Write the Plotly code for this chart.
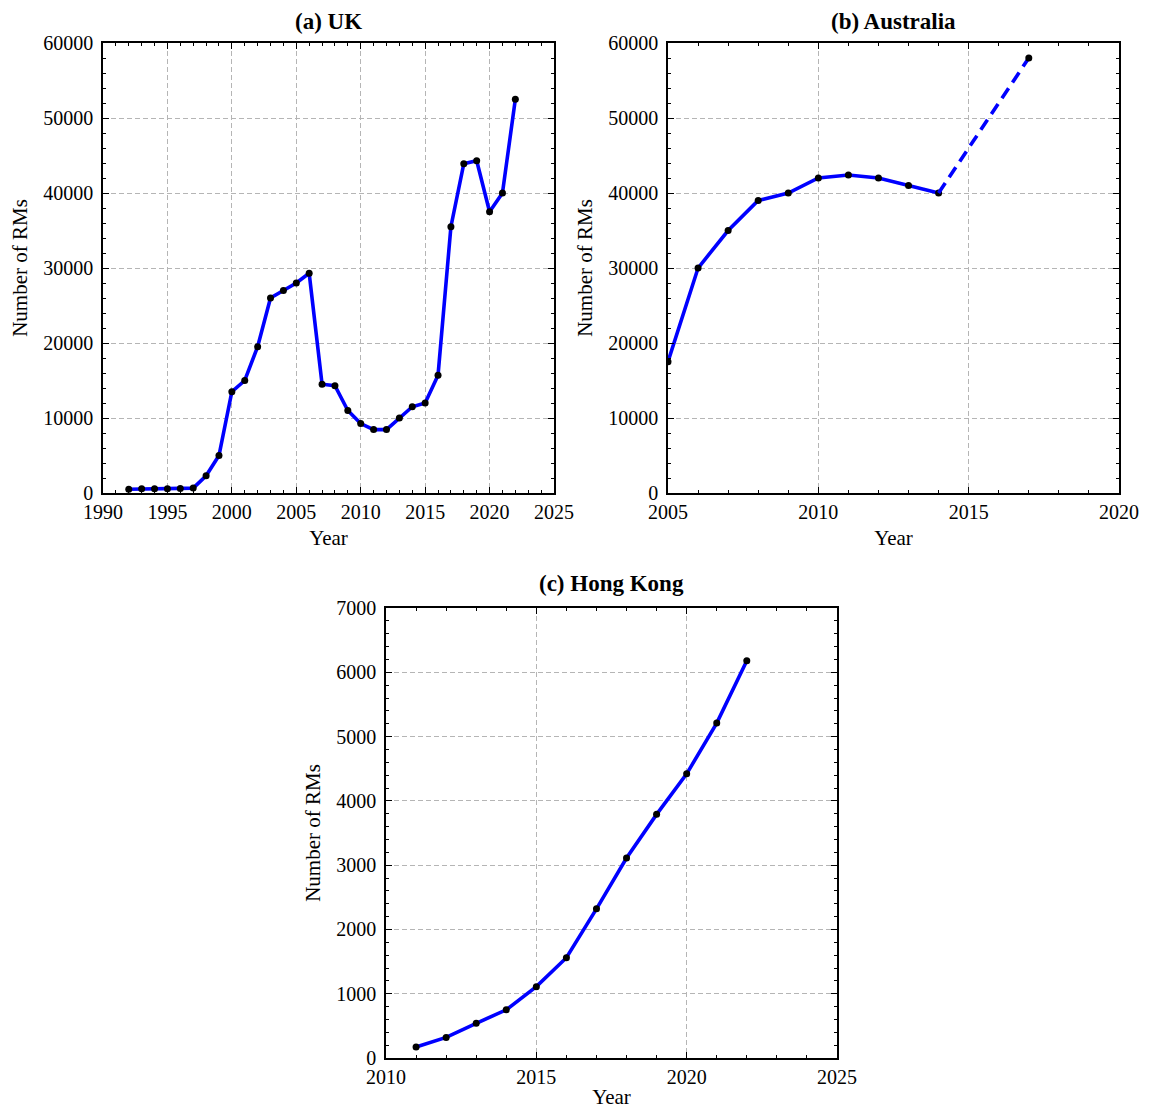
import plotly.graph_objects as go

uk_years = list(range(1992, 2023))
uk_values = [500, 550, 550, 550, 600, 650, 2300, 5000, 13500, 15000, 19500, 26000, 27000,
             28000, 29300, 14500, 14300, 11000, 9250, 8450, 8450, 10000, 11500, 12000,
             15700, 35500, 43900, 44300, 37500, 40000, 52500]

au_years = [2005, 2006, 2007, 2008, 2009, 2010, 2011, 2012, 2013, 2014]
au_values = [17500, 30000, 35000, 39000, 40000, 42000, 42400, 42000, 41000, 40000]
au_proj_years = [2014, 2017]
au_proj_values = [40000, 58000]

hk_years = list(range(2011, 2023))
hk_values = [170, 320, 540, 750, 1110, 1560, 2320, 3110, 3790, 4420, 5210, 6180]

titles = ["(a) UK", "(b) Australia", "(c) Hong Kong"]

FONT = "Liberation Serif"
BLUE = "#0000ff"

fig = go.Figure()

def add_series(x, y, xa, ya):
    fig.add_trace(go.Scatter(
        x=x, y=y, xaxis=xa, yaxis=ya,
        mode="lines+markers",
        line=dict(color=BLUE, width=3.6),
        marker=dict(color="black", size=7, line=dict(color="black", width=0)),
        showlegend=False, hoverinfo="x+y"))

add_series(uk_years, uk_values, "x", "y")
add_series(au_years, au_values, "x2", "y2")
fig.add_trace(go.Scatter(
    x=au_proj_years, y=au_proj_values, xaxis="x2", yaxis="y2", mode="lines",
    line=dict(color=BLUE, width=3.6, dash="12px,7px"), showlegend=False))
fig.add_trace(go.Scatter(x=au_proj_years[-1:], y=au_proj_values[-1:], xaxis="x2", yaxis="y2",
                         mode="markers", marker=dict(color="black", size=7),
                         showlegend=False))
add_series(hk_years, hk_values, "x3", "y3")

# page body has an 8px margin; figure coordinates are offset accordingly
OFF = 8
W, H = 1150 - 2 * OFF, 1117 - 2 * OFF
def dx(a, b):
    return [(a - OFF) / W, (b - OFF) / W]
def dy(top, bottom):
    return [1 - (bottom - OFF) / H, 1 - (top - OFF) / H]

def common(domain, rng, dtick, minor_dtick, anchor, title, tick0, standoff, tls):
    return dict(domain=domain, range=rng, dtick=dtick, tick0=tick0, anchor=anchor,
                automargin=False, tickformat="d", ticklabelstandoff=tls,
                showline=True, linecolor="black", linewidth=1.6, mirror="allticks",
                ticks="inside", ticklen=6, tickwidth=1.2, tickcolor="black",
                minor=dict(ticks="inside", ticklen=3.5, dtick=minor_dtick, tickcolor="black",
                           tickwidth=1, showgrid=False),
                showgrid=True, gridcolor="#b5b5b5", griddash="5px,3px", gridwidth=1,
                zeroline=False,
                tickfont=dict(family=FONT, size=20, color="black"),
                title=dict(text=title, font=dict(family=FONT, size=21, color="black"),
                           standoff=standoff))

def xaxis(domain, rng, anchor):
    return common(domain, rng, 5, 1, anchor, "Year", rng[0], 9, 0)

def yaxis(domain, rng, dtick, minor_dtick, anchor):
    return common(domain, rng, dtick, minor_dtick, anchor, "Number of RMs", 0, 10, 4)

fig.update_layout(
    width=W, height=H,
    margin=dict(l=0, r=0, t=0, b=0),
    paper_bgcolor="white", plot_bgcolor="white",
    font=dict(family=FONT, color="black"),
    xaxis=xaxis(dx(103, 554), [1990, 2025], "y"),
    yaxis=yaxis(dy(43, 493), [0, 60000], 10000, 2000, "x"),
    xaxis2=xaxis(dx(668, 1119), [2005, 2020], "y2"),
    yaxis2=yaxis(dy(43, 493), [0, 60000], 10000, 2000, "x2"),
    xaxis3=xaxis(dx(386, 837), [2010, 2025], "y3"),
    yaxis3=yaxis(dy(608, 1058), [0, 7000], 1000, 200, "x3"),
)

# (center x, top y) of each panel title in page pixels
title_pos = [((103 + 554) / 2, 8), ((668 + 1119) / 2, 8), ((386 + 837) / 2, 570)]
for t, (px, py) in zip(titles, title_pos):
    fig.add_annotation(text="<b>" + t + "</b>", x=(px - OFF) / W, y=1 - (py - OFF) / H,
                       xref="paper", yref="paper",
                       showarrow=False, xanchor="center", yanchor="top", borderpad=0,
                       font=dict(family=FONT, size=23, color="black"))

fig.write_html("out.html")
